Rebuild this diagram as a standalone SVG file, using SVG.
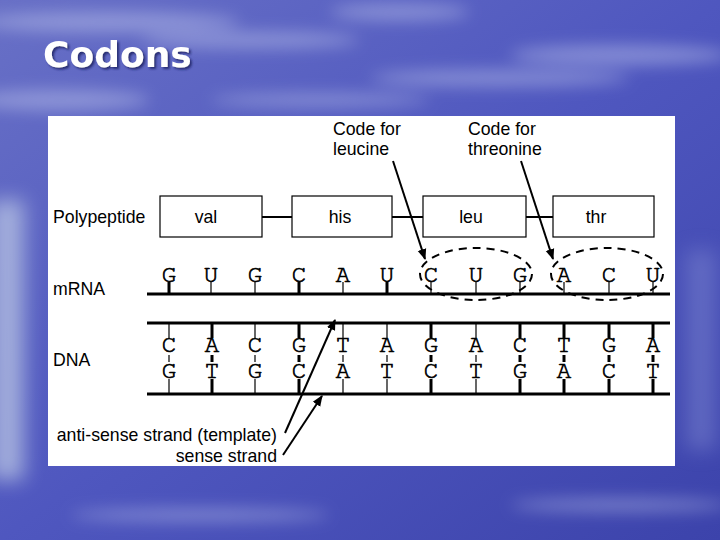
<svg xmlns="http://www.w3.org/2000/svg" width="720" height="540" viewBox="0 0 720 540">
<defs>
  <linearGradient id="sky" x1="0" y1="0" x2="1" y2="1">
    <stop offset="0" stop-color="#6870c6"/>
    <stop offset="0.5" stop-color="#4f57bf"/>
    <stop offset="1" stop-color="#3c43ab"/>
  </linearGradient>
  <filter id="blur" x="-50%" y="-50%" width="200%" height="200%">
    <feGaussianBlur stdDeviation="8"/>
  </filter>
  <filter id="blur2" x="-100%" y="-20%" width="300%" height="140%">
    <feGaussianBlur stdDeviation="10"/>
  </filter>
  <filter id="shadow" x="-10%" y="-20%" width="130%" height="150%">
    <feGaussianBlur in="SourceAlpha" stdDeviation="1"/>
    <feOffset dx="2" dy="2" result="o"/>
    <feFlood flood-color="#1a1f60" flood-opacity="0.8"/>
    <feComposite in2="o" operator="in"/>
    <feMerge><feMergeNode/><feMergeNode in="SourceGraphic"/></feMerge>
  </filter>
  <marker id="ah" viewBox="0 0 10 10" refX="9" refY="5" markerWidth="5.5" markerHeight="5.5" orient="auto" markerUnits="strokeWidth">
    <path d="M0,1 L10,5 L0,9 z" fill="#000"/>
  </marker>
  <style>
    .lbl { font-family: "Liberation Sans", Arial, sans-serif; font-size: 17.7px; fill: #000; }
    .base { font-family: "FreeMono", "Nimbus Mono PS", "Liberation Serif", serif; font-size: 24px; font-weight: normal; fill: #000; stroke: #000; stroke-width: 0.7; text-anchor: middle; }
    .box { fill: #fff; stroke: #000; stroke-width: 1.2; }
    .bond { stroke: #000; stroke-width: 2; }
    .strand { stroke: #000; stroke-width: 3; }
    .t1 { stroke: #000; stroke-width: 1.2; }
    .t3 { stroke: #000; stroke-width: 3; }
    .dash { fill: none; stroke: #000; stroke-width: 2; stroke-dasharray: 8 6; }
    .arr { stroke: #000; stroke-width: 2; fill: none; }
  </style>
</defs>

<!-- background -->
<rect x="0" y="0" width="720" height="540" fill="url(#sky)"/>
<g filter="url(#blur)" fill="#c4cbef" opacity="0.45">
  <ellipse cx="110" cy="22" rx="130" ry="10"/>
  <ellipse cx="250" cy="40" rx="110" ry="8"/>
  <ellipse cx="400" cy="12" rx="70" ry="8"/>
  <ellipse cx="620" cy="55" rx="110" ry="10"/>
  <ellipse cx="500" cy="78" rx="130" ry="8"/>
  <ellipse cx="60" cy="100" rx="90" ry="10"/>
  <ellipse cx="320" cy="100" rx="110" ry="6"/>
  <ellipse cx="620" cy="505" rx="110" ry="6"/>
  <ellipse cx="200" cy="515" rx="130" ry="6"/>
</g>
<rect x="-10" y="200" width="34" height="280" fill="#b4c0e2" opacity="0.8" filter="url(#blur2)"/>
<rect x="686" y="250" width="30" height="200" fill="#7d86d0" opacity="0.5" filter="url(#blur2)"/>

<!-- title -->
<text x="43" y="67" font-family="'DejaVu Sans', Verdana, sans-serif" font-size="36" font-weight="bold" fill="#fff" filter="url(#shadow)">Codons</text>

<!-- white panel -->
<rect x="48" y="116" width="627" height="350" fill="#fff"/>

<!-- labels -->
<g id="labels">
  <text class="lbl" x="53" y="223">Polypeptide</text>
  <text class="lbl" x="53" y="295">mRNA</text>
  <text class="lbl" x="53" y="366">DNA</text>
  <text class="lbl" x="333" y="135">Code for</text>
  <text class="lbl" x="333" y="155">leucine</text>
  <text class="lbl" x="468" y="135">Code for</text>
  <text class="lbl" x="468" y="155">threonine</text>
  <text class="lbl" x="277" y="441" text-anchor="end">anti-sense strand (template)</text>
  <text class="lbl" x="277" y="462" text-anchor="end">sense strand</text>
</g>

<!-- polypeptide -->
<g id="peptide-bonds">
  <line class="bond" x1="262" y1="217" x2="292" y2="217"/>
  <line class="bond" x1="392" y1="217" x2="423" y2="217"/>
  <line class="bond" x1="526" y1="217" x2="553" y2="217"/>
</g>
<g id="val"><rect class="box" x="160" y="196" width="102" height="41"/><text class="lbl" x="206" y="223" text-anchor="middle">val</text></g>
<g id="his"><rect class="box" x="292" y="196" width="100" height="41"/><text class="lbl" x="340" y="223" text-anchor="middle">his</text></g>
<g id="leu"><rect class="box" x="423" y="196" width="103" height="41"/><text class="lbl" x="471" y="223" text-anchor="middle">leu</text></g>
<g id="thr"><rect class="box" x="553" y="196" width="101" height="41"/><text class="lbl" x="596" y="223" text-anchor="middle">thr</text></g>

<!-- mRNA -->
<g id="mrna">
  <line class="strand" x1="147" y1="294" x2="670" y2="294"/>
  <line class="t3" x1="169" y1="282" x2="169" y2="294"/>
  <line class="t1" x1="211" y1="282" x2="211" y2="294"/>
  <line class="t1" x1="255" y1="282" x2="255" y2="294"/>
  <line class="t3" x1="299" y1="282" x2="299" y2="294"/>
  <line class="t1" x1="343" y1="282" x2="343" y2="294"/>
  <line class="t3" x1="387" y1="282" x2="387" y2="294"/>
  <line class="t1" x1="431" y1="282" x2="431" y2="294"/>
  <line class="t1" x1="476" y1="282" x2="476" y2="294"/>
  <line class="t1" x1="520" y1="282" x2="520" y2="294"/>
  <line class="t1" x1="564" y1="282" x2="564" y2="294"/>
  <line class="t1" x1="609" y1="282" x2="609" y2="294"/>
  <line class="t1" x1="653" y1="282" x2="653" y2="294"/>
  <text class="base" x="169" y="282">G</text>
  <text class="base" x="211" y="282">U</text>
  <text class="base" x="255" y="282">G</text>
  <text class="base" x="299" y="282">C</text>
  <text class="base" x="343" y="282">A</text>
  <text class="base" x="387" y="282">U</text>
  <text class="base" x="431" y="282">C</text>
  <text class="base" x="476" y="282">U</text>
  <text class="base" x="520" y="282">G</text>
  <text class="base" x="564" y="282">A</text>
  <text class="base" x="609" y="282">C</text>
  <text class="base" x="653" y="282">U</text>
</g>

<!-- DNA -->
<g id="dna">
  <line class="strand" x1="147" y1="323" x2="670" y2="323"/>
  <line class="strand" x1="147" y1="394" x2="670" y2="394"/>
  <g>
    <line class="t1" x1="169" y1="323" x2="169" y2="338"/><line class="t1" x1="169" y1="355" x2="169" y2="362"/><line class="t1" x1="169" y1="379" x2="169" y2="394"/>
    <line class="t3" x1="212" y1="323" x2="212" y2="338"/><line class="t3" x1="212" y1="355" x2="212" y2="362"/><line class="t3" x1="212" y1="379" x2="212" y2="394"/>
    <line class="t1" x1="255" y1="323" x2="255" y2="338"/><line class="t1" x1="255" y1="355" x2="255" y2="362"/><line class="t1" x1="255" y1="379" x2="255" y2="394"/>
    <line class="t3" x1="299" y1="323" x2="299" y2="338"/><line class="t3" x1="299" y1="355" x2="299" y2="362"/><line class="t3" x1="299" y1="379" x2="299" y2="394"/>
    <line class="t1" x1="343" y1="323" x2="343" y2="338"/><line class="t1" x1="343" y1="355" x2="343" y2="362"/><line class="t1" x1="343" y1="379" x2="343" y2="394"/>
    <line class="t1" x1="387" y1="323" x2="387" y2="338"/><line class="t1" x1="387" y1="355" x2="387" y2="362"/><line class="t1" x1="387" y1="379" x2="387" y2="394"/>
    <line class="t3" x1="431" y1="323" x2="431" y2="338"/><line class="t3" x1="431" y1="355" x2="431" y2="362"/><line class="t3" x1="431" y1="379" x2="431" y2="394"/>
    <line class="t1" x1="476" y1="323" x2="476" y2="338"/><line class="t1" x1="476" y1="355" x2="476" y2="362"/><line class="t1" x1="476" y1="379" x2="476" y2="394"/>
    <line class="t3" x1="520" y1="323" x2="520" y2="338"/><line class="t3" x1="520" y1="355" x2="520" y2="362"/><line class="t3" x1="520" y1="379" x2="520" y2="394"/>
    <line class="t3" x1="564" y1="323" x2="564" y2="338"/><line class="t3" x1="564" y1="355" x2="564" y2="362"/><line class="t3" x1="564" y1="379" x2="564" y2="394"/>
    <line class="t3" x1="609" y1="323" x2="609" y2="338"/><line class="t3" x1="609" y1="355" x2="609" y2="362"/><line class="t3" x1="609" y1="379" x2="609" y2="394"/>
    <line class="t3" x1="653" y1="323" x2="653" y2="338"/><line class="t3" x1="653" y1="355" x2="653" y2="362"/><line class="t3" x1="653" y1="379" x2="653" y2="394"/>
  </g>
  <g>
    <text class="base" x="169" y="352">C</text><text class="base" x="169" y="378">G</text>
    <text class="base" x="212" y="352">A</text><text class="base" x="212" y="378">T</text>
    <text class="base" x="255" y="352">C</text><text class="base" x="255" y="378">G</text>
    <text class="base" x="299" y="352">G</text><text class="base" x="299" y="378">C</text>
    <text class="base" x="343" y="352">T</text><text class="base" x="343" y="378">A</text>
    <text class="base" x="387" y="352">A</text><text class="base" x="387" y="378">T</text>
    <text class="base" x="431" y="352">G</text><text class="base" x="431" y="378">C</text>
    <text class="base" x="476" y="352">A</text><text class="base" x="476" y="378">T</text>
    <text class="base" x="520" y="352">C</text><text class="base" x="520" y="378">G</text>
    <text class="base" x="564" y="352">T</text><text class="base" x="564" y="378">A</text>
    <text class="base" x="609" y="352">G</text><text class="base" x="609" y="378">C</text>
    <text class="base" x="653" y="352">A</text><text class="base" x="653" y="378">T</text>
  </g>
</g>

<!-- codon ovals -->
<g id="codon-leu"><ellipse class="dash" cx="476" cy="274" rx="56" ry="26"/></g>
<g id="codon-thr"><ellipse class="dash" cx="607" cy="274" rx="56" ry="26"/></g>

<!-- connectors -->
<g id="connectors">
  <line class="arr" x1="393" y1="161" x2="425" y2="259" marker-end="url(#ah)"/>
  <line class="arr" x1="521" y1="161" x2="553" y2="259" marker-end="url(#ah)"/>
  <line class="arr" x1="285" y1="433" x2="335" y2="320" marker-end="url(#ah)"/>
  <line class="arr" x1="283" y1="455" x2="322" y2="396" marker-end="url(#ah)"/>
</g>
</svg>
